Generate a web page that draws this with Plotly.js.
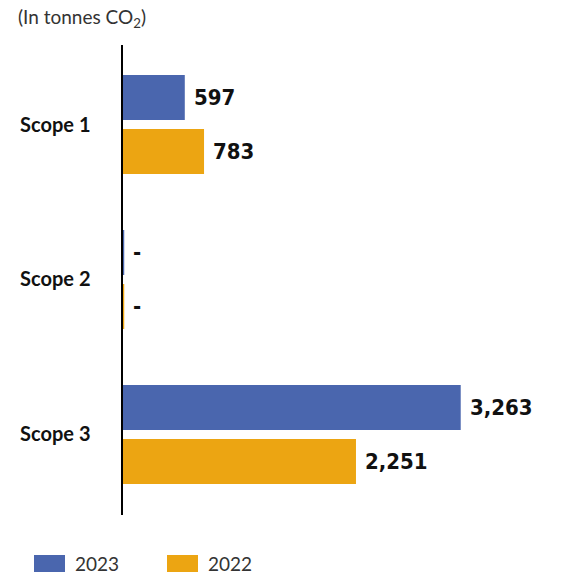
<!DOCTYPE html>
<html>
<head>
<meta charset="utf-8">
<script src="https://cdn.plot.ly/plotly-3.0.1.min.js"></script>
<style>html,body{margin:0;padding:0;background:#fff;}#chart{width:573px;height:574px;}</style>
</head>
<body>
<div id="chart"></div>
<script>
const categories = ["Scope 1", "Scope 2", "Scope 3"];
const seriesNames = ["2023", "2022"];
const values2023 = [597, 12, 3263];
const values2022 = [783, 12, 2251];
const labels2023 = ["597", "-", "3,263"];
const labels2022 = ["783", "-", "2,251"];
const colors = ["#4a66ae", "#eca512"];

const W = 573, H = 574;
const L = 123, R = 537, T = 45, B = 515;
const px2x = p => (p - L) / (R - L);
const py2y = p => (B - p) / (B - T);

const traces = [
  {type: "bar", orientation: "h", name: seriesNames[0], y: categories, x: values2023,
   marker: {color: colors[0]}, hoverinfo: "none"},
  {type: "bar", orientation: "h", name: seriesNames[1], y: categories, x: values2022,
   marker: {color: colors[1]}, hoverinfo: "none"}
];

const annotations = [];
const valueFont = {family: "DejaVu Sans Condensed, sans-serif", size: 22, color: "#111", weight: 700};
[[values2023, labels2023, -0.174], [values2022, labels2022, 0.174]].forEach(([vals, labs, off]) => {
  vals.forEach((v, i) => {
    annotations.push({x: v, y: i + off, xref: "x", yref: "y", text: "<b>" + labs[i] + "</b>",
      showarrow: false, xanchor: "left", yanchor: "middle", xshift: 7, font: valueFont});
  });
});

annotations.push({xref: "paper", yref: "paper", x: px2x(16), y: py2y(18), xanchor: "left", yanchor: "middle",
  text: "(In tonnes CO<sub>2</sub>)", showarrow: false,
  font: {family: "Lato, Open Sans, sans-serif", size: 19, color: "#333"}});

const shapes = [];
const legendX = [34, 167];
seriesNames.forEach((n, i) => {
  shapes.push({type: "rect", xref: "paper", yref: "paper", x0: px2x(legendX[i]), x1: px2x(legendX[i] + 31),
    y0: py2y(572), y1: py2y(555), fillcolor: colors[i], line: {width: 0}});
  annotations.push({xref: "paper", yref: "paper", x: px2x(legendX[i] + 39), y: py2y(563), xanchor: "left", yanchor: "middle",
    text: n, showarrow: false, font: {family: "Lato, Open Sans, sans-serif", size: 19, color: "#333"}});
});

const layout = {
  width: W, height: H,
  margin: {l: L, r: W - R, t: T, b: H - B, pad: 0},
  paper_bgcolor: "#fff", plot_bgcolor: "#fff",
  barmode: "group", bargap: 0.303, bargroupgap: 0.167,
  showlegend: false,
  xaxis: {range: [0, 4000], visible: false, fixedrange: true, zeroline: false, showgrid: false},
  yaxis: {type: "category", range: [2.52, -0.513], autorange: false, showgrid: false, zeroline: false,
    showline: true, linecolor: "#000", linewidth: 2.5, ticks: "", ticklabelstandoff: 26,
    tickfont: {family: "Lato, Open Sans, sans-serif", size: 20, color: "#111", weight: 700}},
  annotations: annotations,
  shapes: shapes
};

Plotly.newPlot("chart", traces, layout, {displayModeBar: false, staticPlot: true});
</script>
</body>
</html>
